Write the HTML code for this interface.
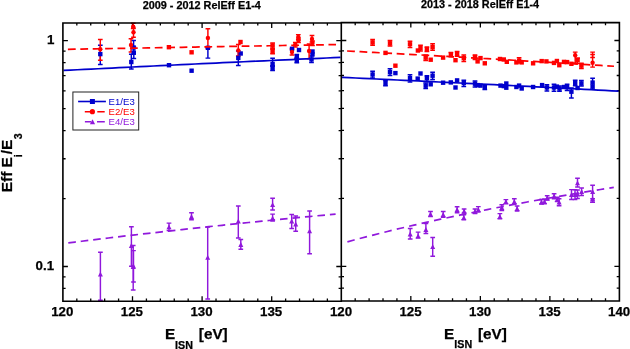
<!DOCTYPE html>
<html lang="en"><head><meta charset="utf-8"><title>RelEff E1-4</title>
<style>html,body{margin:0;padding:0;background:#fff}body{width:630px;height:349px;overflow:hidden}svg{display:block}</style>
</head><body>
<svg width="630" height="349" viewBox="0 0 630 349">
<rect width="630" height="349" fill="#fff"/>
<g id="ticks" stroke="#000" stroke-width="1.3" fill="none">
<path d="M76.82,301.3v-2.7M76.82,22.9v2.7M355.20,301.0v-2.7M355.20,22.599999999999998v2.7M90.74,301.3v-2.7M90.74,22.9v2.7M369.11,301.0v-2.7M369.11,22.599999999999998v2.7M104.66,301.3v-2.7M104.66,22.9v2.7M383.01,301.0v-2.7M383.01,22.599999999999998v2.7M118.58,301.3v-2.7M118.58,22.9v2.7M396.92,301.0v-2.7M396.92,22.599999999999998v2.7M132.50,301.3v-5.0M132.50,22.9v5.0M410.82,301.0v-5.0M410.82,22.599999999999998v5.0M146.42,301.3v-2.7M146.42,22.9v2.7M424.73,301.0v-2.7M424.73,22.599999999999998v2.7M160.34,301.3v-2.7M160.34,22.9v2.7M438.63,301.0v-2.7M438.63,22.599999999999998v2.7M174.26,301.3v-2.7M174.26,22.9v2.7M452.54,301.0v-2.7M452.54,22.599999999999998v2.7M188.18,301.3v-2.7M188.18,22.9v2.7M466.44,301.0v-2.7M466.44,22.599999999999998v2.7M202.10,301.3v-5.0M202.10,22.9v5.0M480.35,301.0v-5.0M480.35,22.599999999999998v5.0M216.02,301.3v-2.7M216.02,22.9v2.7M494.25,301.0v-2.7M494.25,22.599999999999998v2.7M229.94,301.3v-2.7M229.94,22.9v2.7M508.16,301.0v-2.7M508.16,22.599999999999998v2.7M243.86,301.3v-2.7M243.86,22.9v2.7M522.07,301.0v-2.7M522.07,22.599999999999998v2.7M257.78,301.3v-2.7M257.78,22.9v2.7M535.97,301.0v-2.7M535.97,22.599999999999998v2.7M271.70,301.3v-5.0M271.70,22.9v5.0M549.88,301.0v-5.0M549.88,22.599999999999998v5.0M285.62,301.3v-2.7M285.62,22.9v2.7M563.78,301.0v-2.7M563.78,22.599999999999998v2.7M299.54,301.3v-2.7M299.54,22.9v2.7M577.68,301.0v-2.7M577.68,22.599999999999998v2.7M313.46,301.3v-2.7M313.46,22.9v2.7M591.59,301.0v-2.7M591.59,22.599999999999998v2.7M327.38,301.3v-2.7M327.38,22.9v2.7M605.50,301.0v-2.7M605.50,22.599999999999998v2.7M62.9,288.38h2.7M338.6,288.38h2.7M341.3,288.18h2.7M619.4,288.18h-2.7M62.9,276.83h2.7M338.6,276.83h2.7M341.3,276.63h2.7M619.4,276.63h-2.7M62.9,266.50h5.0M336.3,266.50h5.0M341.3,266.30h5.0M619.4,266.30h-5.0M62.9,198.53h2.7M338.6,198.53h2.7M341.3,198.33h2.7M619.4,198.33h-2.7M62.9,158.77h2.7M338.6,158.77h2.7M341.3,158.57h2.7M619.4,158.57h-2.7M62.9,130.55h2.7M338.6,130.55h2.7M341.3,130.35h2.7M619.4,130.35h-2.7M62.9,108.67h2.7M338.6,108.67h2.7M341.3,108.47h2.7M619.4,108.47h-2.7M62.9,90.79h2.7M338.6,90.79h2.7M341.3,90.59h2.7M619.4,90.59h-2.7M62.9,75.68h2.7M338.6,75.68h2.7M341.3,75.48h2.7M619.4,75.48h-2.7M62.9,62.58h2.7M338.6,62.58h2.7M341.3,62.38h2.7M619.4,62.38h-2.7M62.9,51.03h2.7M338.6,51.03h2.7M341.3,50.83h2.7M619.4,50.83h-2.7M62.9,40.70h5.0M336.3,40.70h5.0M341.3,40.50h5.0M619.4,40.50h-5.0"/>
</g>
<g id="left-data">
<path d="M100.40,252.30V300.30M98.05,252.30H102.75M98.05,300.30H102.75" stroke="#9018DC" stroke-width="1.45" fill="none"/>
<path d="M100.40,271.70 L102.90,276.50 L97.90,276.50Z" fill="#9018DC"/>
<path d="M131.40,226.80V266.20M129.05,226.80H133.75M129.05,266.20H133.75" stroke="#9018DC" stroke-width="1.45" fill="none"/>
<path d="M131.40,243.10 L133.90,247.90 L128.90,247.90Z" fill="#9018DC"/>
<path d="M133.50,250.60V282.00M131.15,250.60H135.85M131.15,282.00H135.85" stroke="#9018DC" stroke-width="1.45" fill="none"/>
<path d="M133.50,263.60 L136.00,268.40 L131.00,268.40Z" fill="#9018DC"/>
<path d="M133.20,245.50V290.00M130.85,245.50H135.55M130.85,290.00H135.55" stroke="#9018DC" stroke-width="1.45" fill="none"/>
<path d="M133.20,264.10 L135.70,268.90 L130.70,268.90Z" fill="#9018DC"/>
<path d="M169.00,223.10V230.50M166.65,223.10H171.35M166.65,230.50H171.35" stroke="#9018DC" stroke-width="1.45" fill="none"/>
<path d="M169.00,224.50 L171.50,229.30 L166.50,229.30Z" fill="#9018DC"/>
<path d="M191.50,212.70V219.70M189.15,212.70H193.85M189.15,219.70H193.85" stroke="#9018DC" stroke-width="1.45" fill="none"/>
<path d="M191.50,214.10 L194.00,218.90 L189.00,218.90Z" fill="#9018DC"/>
<path d="M207.70,227.10V299.00M205.35,227.10H210.05M205.35,299.00H210.05" stroke="#9018DC" stroke-width="1.45" fill="none"/>
<path d="M207.70,254.90 L210.20,259.70 L205.20,259.70Z" fill="#9018DC"/>
<path d="M238.30,205.90V237.90M235.95,205.90H240.65M235.95,237.90H240.65" stroke="#9018DC" stroke-width="1.45" fill="none"/>
<path d="M238.30,218.70 L240.80,223.50 L235.80,223.50Z" fill="#9018DC"/>
<path d="M240.80,239.40V249.30M238.45,239.40H243.15M238.45,249.30H243.15" stroke="#9018DC" stroke-width="1.45" fill="none"/>
<path d="M240.80,242.10 L243.30,246.90 L238.30,246.90Z" fill="#9018DC"/>
<path d="M272.60,198.30V210.00M270.25,198.30H274.95M270.25,210.00H274.95" stroke="#9018DC" stroke-width="1.45" fill="none"/>
<path d="M272.60,202.20 L275.10,207.00 L270.10,207.00Z" fill="#9018DC"/>
<path d="M272.60,214.10V221.10M270.25,214.10H274.95M270.25,221.10H274.95" stroke="#9018DC" stroke-width="1.45" fill="none"/>
<path d="M272.60,215.80 L275.10,220.60 L270.10,220.60Z" fill="#9018DC"/>
<path d="M291.70,214.40V228.50M289.35,214.40H294.05M289.35,228.50H294.05" stroke="#9018DC" stroke-width="1.45" fill="none"/>
<path d="M291.70,218.60 L294.20,223.40 L289.20,223.40Z" fill="#9018DC"/>
<path d="M295.70,216.00V231.30M293.35,216.00H298.05M293.35,231.30H298.05" stroke="#9018DC" stroke-width="1.45" fill="none"/>
<path d="M295.70,221.60 L298.20,226.40 L293.20,226.40Z" fill="#9018DC"/>
<path d="M309.60,211.00V253.70M307.25,211.00H311.95M307.25,253.70H311.95" stroke="#9018DC" stroke-width="1.45" fill="none"/>
<path d="M309.60,228.40 L312.10,233.20 L307.10,233.20Z" fill="#9018DC"/>
<path d="M68.30,242.91 L74.98,242.07 L81.66,241.25 L88.35,240.42 L95.03,239.61 L101.71,238.80 L108.40,238.00 L115.08,237.20 L121.76,236.42 L128.44,235.63 L135.12,234.86 L141.81,234.09 L148.49,233.32 L155.17,232.56 L161.86,231.81 L168.54,231.06 L175.22,230.32 L181.90,229.59 L188.59,228.86 L195.27,228.13 L201.95,227.41 L208.63,226.70 L215.31,225.99 L222.00,225.29 L228.68,224.59 L235.36,223.89 L242.05,223.20 L248.73,222.52 L255.41,221.84 L262.09,221.17 L268.77,220.50 L275.46,219.83 L282.14,219.17 L288.82,218.51 L295.50,217.86 L302.19,217.21 L308.87,216.57 L315.55,215.93 L322.24,215.29 L328.92,214.66 L335.60,214.03" stroke="#9018DC" stroke-width="1.7" stroke-dasharray="7.6 4.93" fill="none"/>
<path d="M100.30,45.20V64.50M97.95,45.20H102.65M97.95,64.50H102.65" stroke="#0000CD" stroke-width="1.45" fill="none"/>
<path d="M131.30,54.20V69.00M128.95,54.20H133.65M128.95,69.00H133.65" stroke="#0000CD" stroke-width="1.45" fill="none"/>
<path d="M133.80,47.00V58.50M131.45,47.00H136.15M131.45,58.50H136.15" stroke="#0000CD" stroke-width="1.45" fill="none"/>
<path d="M133.60,40.40V54.00M131.25,40.40H135.95M131.25,54.00H135.95" stroke="#0000CD" stroke-width="1.45" fill="none"/>
<path d="M207.90,47.80V58.10M205.55,47.80H210.25M205.55,58.10H210.25" stroke="#0000CD" stroke-width="1.45" fill="none"/>
<path d="M238.30,51.00V65.50M235.95,51.00H240.65M235.95,65.50H240.65" stroke="#0000CD" stroke-width="1.45" fill="none"/>
<path d="M272.60,58.20V66.00M270.25,58.20H274.95M270.25,66.00H274.95" stroke="#0000CD" stroke-width="1.45" fill="none"/>
<path d="M272.60,66.00V70.60M270.25,66.00H274.95M270.25,70.60H274.95" stroke="#0000CD" stroke-width="1.45" fill="none"/>
<path d="M296.80,54.40V59.00M294.45,54.40H299.15M294.45,59.00H299.15" stroke="#0000CD" stroke-width="1.45" fill="none"/>
<path d="M296.80,58.00V62.80M294.45,58.00H299.15M294.45,62.80H299.15" stroke="#0000CD" stroke-width="1.45" fill="none"/>
<path d="M311.50,56.00V62.50M309.15,56.00H313.85M309.15,62.50H313.85" stroke="#0000CD" stroke-width="1.45" fill="none"/>
<path d="M100.30,39.50V60.20M97.95,39.50H102.65M97.95,60.20H102.65" stroke="#FF0000" stroke-width="1.45" fill="none"/>
<path d="M133.20,23.20V28.60M130.85,23.20H135.55M130.85,28.60H135.55" stroke="#FF0000" stroke-width="1.45" fill="none"/>
<path d="M133.50,28.00V37.30M131.15,28.00H135.85M131.15,37.30H135.85" stroke="#FF0000" stroke-width="1.45" fill="none"/>
<path d="M131.00,38.70V51.90M128.65,38.70H133.35M128.65,51.90H133.35" stroke="#FF0000" stroke-width="1.45" fill="none"/>
<path d="M207.90,28.70V47.70M205.55,28.70H210.25M205.55,47.70H210.25" stroke="#FF0000" stroke-width="1.45" fill="none"/>
<path d="M238.30,44.40V56.00M235.95,44.40H240.65M235.95,56.00H240.65" stroke="#FF0000" stroke-width="1.45" fill="none"/>
<path d="M272.60,42.90V48.30M270.25,42.90H274.95M270.25,48.30H274.95" stroke="#FF0000" stroke-width="1.45" fill="none"/>
<path d="M272.60,49.30V53.80M270.25,49.30H274.95M270.25,53.80H274.95" stroke="#FF0000" stroke-width="1.45" fill="none"/>
<path d="M298.30,34.60V39.50M295.95,34.60H300.65M295.95,39.50H300.65" stroke="#FF0000" stroke-width="1.45" fill="none"/>
<path d="M298.50,38.00V42.50M296.15,38.00H300.85M296.15,42.50H300.85" stroke="#FF0000" stroke-width="1.45" fill="none"/>
<path d="M295.30,42.50V47.00M292.95,42.50H297.65M292.95,47.00H297.65" stroke="#FF0000" stroke-width="1.45" fill="none"/>
<path d="M292.00,49.00V54.90M289.65,49.00H294.35M289.65,54.90H294.35" stroke="#FF0000" stroke-width="1.45" fill="none"/>
<path d="M312.00,35.50V42.00M309.65,35.50H314.35M309.65,42.00H314.35" stroke="#FF0000" stroke-width="1.45" fill="none"/>
<path d="M312.50,41.00V45.50M310.15,41.00H314.85M310.15,45.50H314.85" stroke="#FF0000" stroke-width="1.45" fill="none"/>
<path d="M309.10,44.00V58.70M306.75,44.00H311.45M306.75,58.70H311.45" stroke="#FF0000" stroke-width="1.45" fill="none"/>
<rect x="98.10" y="51.90" width="4.4" height="4.4" fill="#0000CD"/>
<rect x="129.10" y="59.80" width="4.4" height="4.4" fill="#0000CD"/>
<rect x="131.60" y="50.40" width="4.4" height="4.4" fill="#0000CD"/>
<rect x="131.40" y="45.30" width="4.4" height="4.4" fill="#0000CD"/>
<rect x="166.80" y="63.00" width="4.4" height="4.4" fill="#0000CD"/>
<rect x="189.40" y="68.50" width="4.4" height="4.4" fill="#0000CD"/>
<rect x="205.70" y="45.60" width="4.4" height="4.4" fill="#0000CD"/>
<rect x="238.50" y="51.30" width="4.4" height="4.4" fill="#0000CD"/>
<rect x="236.10" y="55.70" width="4.4" height="4.4" fill="#0000CD"/>
<rect x="270.40" y="61.70" width="4.4" height="4.4" fill="#0000CD"/>
<rect x="270.40" y="66.10" width="4.4" height="4.4" fill="#0000CD"/>
<rect x="289.80" y="46.60" width="4.4" height="4.4" fill="#0000CD"/>
<rect x="296.80" y="47.80" width="4.4" height="4.4" fill="#0000CD"/>
<rect x="294.60" y="54.80" width="4.4" height="4.4" fill="#0000CD"/>
<rect x="294.60" y="58.20" width="4.4" height="4.4" fill="#0000CD"/>
<rect x="310.30" y="49.30" width="4.4" height="4.4" fill="#0000CD"/>
<rect x="310.30" y="52.20" width="4.4" height="4.4" fill="#0000CD"/>
<rect x="309.30" y="57.20" width="4.4" height="4.4" fill="#0000CD"/>
<path d="M63.50,70.46 L70.42,70.11 L77.35,69.76 L84.28,69.42 L91.20,69.07 L98.12,68.73 L105.05,68.38 L111.97,68.04 L118.90,67.70 L125.83,67.36 L132.75,67.02 L139.68,66.68 L146.60,66.35 L153.53,66.01 L160.45,65.68 L167.38,65.34 L174.30,65.01 L181.22,64.68 L188.15,64.35 L195.07,64.02 L202.00,63.70 L208.93,63.37 L215.85,63.04 L222.78,62.72 L229.70,62.40 L236.62,62.08 L243.55,61.75 L250.47,61.43 L257.40,61.12 L264.32,60.80 L271.25,60.48 L278.18,60.16 L285.10,59.85 L292.02,59.54 L298.95,59.22 L305.88,58.91 L312.80,58.60 L319.73,58.29 L326.65,57.98 L333.57,57.67 L340.50,57.37" stroke="#0000CD" stroke-width="1.7" fill="none"/>
<circle cx="100.30" cy="49.30" r="2.2" fill="#FF0000"/>
<circle cx="133.20" cy="26.60" r="2.2" fill="#FF0000"/>
<circle cx="133.50" cy="32.30" r="2.2" fill="#FF0000"/>
<circle cx="131.00" cy="45.00" r="2.2" fill="#FF0000"/>
<rect x="166.70" y="45.00" width="4.4" height="4.4" fill="#FF0000"/>
<rect x="189.40" y="50.10" width="4.4" height="4.4" fill="#FF0000"/>
<circle cx="207.90" cy="38.00" r="2.2" fill="#FF0000"/>
<rect x="238.30" y="39.80" width="4.4" height="4.4" fill="#FF0000"/>
<circle cx="238.30" cy="50.40" r="2.2" fill="#FF0000"/>
<rect x="270.40" y="43.30" width="4.4" height="4.4" fill="#FF0000"/>
<rect x="270.40" y="49.30" width="4.4" height="4.4" fill="#FF0000"/>
<circle cx="298.30" cy="37.00" r="2.2" fill="#FF0000"/>
<circle cx="298.50" cy="40.30" r="2.2" fill="#FF0000"/>
<circle cx="295.30" cy="44.60" r="2.2" fill="#FF0000"/>
<circle cx="292.00" cy="52.00" r="2.2" fill="#FF0000"/>
<circle cx="312.00" cy="38.90" r="2.2" fill="#FF0000"/>
<circle cx="312.50" cy="43.10" r="2.2" fill="#FF0000"/>
<circle cx="309.10" cy="51.00" r="2.2" fill="#FF0000"/>
<path d="M67.90,49.31 L74.60,49.19 L81.31,49.07 L88.01,48.95 L94.71,48.83 L101.41,48.71 L108.12,48.59 L114.82,48.47 L121.52,48.35 L128.22,48.23 L134.93,48.11 L141.63,47.99 L148.33,47.87 L155.03,47.75 L161.74,47.63 L168.44,47.51 L175.14,47.39 L181.84,47.28 L188.55,47.16 L195.25,47.04 L201.95,46.92 L208.65,46.80 L215.36,46.69 L222.06,46.57 L228.76,46.45 L235.46,46.33 L242.17,46.22 L248.87,46.10 L255.57,45.98 L262.27,45.87 L268.98,45.75 L275.68,45.63 L282.38,45.52 L289.08,45.40 L295.79,45.28 L302.49,45.17 L309.19,45.05 L315.89,44.94 L322.60,44.82 L329.30,44.71 L336.00,44.59" stroke="#FF0000" stroke-width="1.7" stroke-dasharray="7.8 4.61" fill="none"/>
</g>
<g id="right-data">
<path d="M410.20,228.40V238.90M407.85,228.40H412.55M407.85,238.90H412.55" stroke="#9018DC" stroke-width="1.45" fill="none"/>
<path d="M410.20,231.60 L412.70,236.40 L407.70,236.40Z" fill="#9018DC"/>
<path d="M418.10,232.10V238.10M415.75,232.10H420.45M415.75,238.10H420.45" stroke="#9018DC" stroke-width="1.45" fill="none"/>
<path d="M418.10,233.40 L420.60,238.20 L415.60,238.20Z" fill="#9018DC"/>
<path d="M425.90,223.60V233.50M423.55,223.60H428.25M423.55,233.50H428.25" stroke="#9018DC" stroke-width="1.45" fill="none"/>
<path d="M425.90,227.10 L428.40,231.90 L423.40,231.90Z" fill="#9018DC"/>
<path d="M430.50,211.50V216.60M428.15,211.50H432.85M428.15,216.60H432.85" stroke="#9018DC" stroke-width="1.45" fill="none"/>
<path d="M430.50,211.60 L433.00,216.40 L428.00,216.40Z" fill="#9018DC"/>
<path d="M432.70,237.50V256.30M430.35,237.50H435.05M430.35,256.30H435.05" stroke="#9018DC" stroke-width="1.45" fill="none"/>
<path d="M432.70,244.30 L435.20,249.10 L430.20,249.10Z" fill="#9018DC"/>
<path d="M443.20,211.50V217.20M440.85,211.50H445.55M440.85,217.20H445.55" stroke="#9018DC" stroke-width="1.45" fill="none"/>
<path d="M443.20,212.10 L445.70,216.90 L440.70,216.90Z" fill="#9018DC"/>
<path d="M457.10,206.70V212.80M454.75,206.70H459.45M454.75,212.80H459.45" stroke="#9018DC" stroke-width="1.45" fill="none"/>
<path d="M457.10,207.30 L459.60,212.10 L454.60,212.10Z" fill="#9018DC"/>
<path d="M464.10,209.00V213.00M461.75,209.00H466.45M461.75,213.00H466.45" stroke="#9018DC" stroke-width="1.45" fill="none"/>
<path d="M464.10,208.60 L466.60,213.40 L461.60,213.40Z" fill="#9018DC"/>
<path d="M463.80,214.70V219.80M461.45,214.70H466.15M461.45,219.80H466.15" stroke="#9018DC" stroke-width="1.45" fill="none"/>
<path d="M463.80,215.10 L466.30,219.90 L461.30,219.90Z" fill="#9018DC"/>
<path d="M475.00,209.00V213.60M472.65,209.00H477.35M472.65,213.60H477.35" stroke="#9018DC" stroke-width="1.45" fill="none"/>
<path d="M475.00,209.10 L477.50,213.90 L472.50,213.90Z" fill="#9018DC"/>
<path d="M478.30,206.60V212.00M475.95,206.60H480.65M475.95,212.00H480.65" stroke="#9018DC" stroke-width="1.45" fill="none"/>
<path d="M478.30,207.10 L480.80,211.90 L475.80,211.90Z" fill="#9018DC"/>
<path d="M499.90,213.60V218.70M497.55,213.60H502.25M497.55,218.70H502.25" stroke="#9018DC" stroke-width="1.45" fill="none"/>
<path d="M499.90,214.10 L502.40,218.90 L497.40,218.90Z" fill="#9018DC"/>
<path d="M501.80,204.70V210.40M499.45,204.70H504.15M499.45,210.40H504.15" stroke="#9018DC" stroke-width="1.45" fill="none"/>
<path d="M501.80,205.10 L504.30,209.90 L499.30,209.90Z" fill="#9018DC"/>
<path d="M505.90,199.60V203.80M503.55,199.60H508.25M503.55,203.80H508.25" stroke="#9018DC" stroke-width="1.45" fill="none"/>
<path d="M505.90,199.30 L508.40,204.10 L503.40,204.10Z" fill="#9018DC"/>
<path d="M514.30,198.70V204.00M511.95,198.70H516.65M511.95,204.00H516.65" stroke="#9018DC" stroke-width="1.45" fill="none"/>
<path d="M514.30,199.10 L516.80,203.90 L511.80,203.90Z" fill="#9018DC"/>
<path d="M517.10,206.00V211.00M514.75,206.00H519.45M514.75,211.00H519.45" stroke="#9018DC" stroke-width="1.45" fill="none"/>
<path d="M517.10,206.10 L519.60,210.90 L514.60,210.90Z" fill="#9018DC"/>
<path d="M541.50,199.50V204.00M539.15,199.50H543.85M539.15,204.00H543.85" stroke="#9018DC" stroke-width="1.45" fill="none"/>
<path d="M541.50,199.60 L544.00,204.40 L539.00,204.40Z" fill="#9018DC"/>
<path d="M544.50,199.00V203.70M542.15,199.00H546.85M542.15,203.70H546.85" stroke="#9018DC" stroke-width="1.45" fill="none"/>
<path d="M544.50,199.10 L547.00,203.90 L542.00,203.90Z" fill="#9018DC"/>
<path d="M547.20,195.80V200.00M544.85,195.80H549.55M544.85,200.00H549.55" stroke="#9018DC" stroke-width="1.45" fill="none"/>
<path d="M547.20,195.60 L549.70,200.40 L544.70,200.40Z" fill="#9018DC"/>
<path d="M554.10,193.70V198.70M551.75,193.70H556.45M551.75,198.70H556.45" stroke="#9018DC" stroke-width="1.45" fill="none"/>
<path d="M554.10,193.60 L556.60,198.40 L551.60,198.40Z" fill="#9018DC"/>
<path d="M557.20,197.20V201.50M554.85,197.20H559.55M554.85,201.50H559.55" stroke="#9018DC" stroke-width="1.45" fill="none"/>
<path d="M557.20,197.10 L559.70,201.90 L554.70,201.90Z" fill="#9018DC"/>
<path d="M559.10,198.70V205.80M556.75,198.70H561.45M556.75,205.80H561.45" stroke="#9018DC" stroke-width="1.45" fill="none"/>
<path d="M559.10,199.60 L561.60,204.40 L556.60,204.40Z" fill="#9018DC"/>
<path d="M571.50,189.60V199.40M569.15,189.60H573.85M569.15,199.40H573.85" stroke="#9018DC" stroke-width="1.45" fill="none"/>
<path d="M571.50,192.10 L574.00,196.90 L569.00,196.90Z" fill="#9018DC"/>
<path d="M575.00,189.80V199.40M572.65,189.80H577.35M572.65,199.40H577.35" stroke="#9018DC" stroke-width="1.45" fill="none"/>
<path d="M575.00,192.10 L577.50,196.90 L572.50,196.90Z" fill="#9018DC"/>
<path d="M577.50,190.00V198.50M575.15,190.00H579.85M575.15,198.50H579.85" stroke="#9018DC" stroke-width="1.45" fill="none"/>
<path d="M577.50,191.60 L580.00,196.40 L575.00,196.40Z" fill="#9018DC"/>
<path d="M577.50,178.20V187.00M575.15,178.20H579.85M575.15,187.00H579.85" stroke="#9018DC" stroke-width="1.45" fill="none"/>
<path d="M577.50,180.50 L580.00,185.30 L575.00,185.30Z" fill="#9018DC"/>
<path d="M581.60,187.90V195.40M579.25,187.90H583.95M579.25,195.40H583.95" stroke="#9018DC" stroke-width="1.45" fill="none"/>
<path d="M581.60,189.10 L584.10,193.90 L579.10,193.90Z" fill="#9018DC"/>
<path d="M592.60,185.30V202.20M590.25,185.30H594.95M590.25,202.20H594.95" stroke="#9018DC" stroke-width="1.45" fill="none"/>
<path d="M592.60,189.10 L595.10,193.90 L590.10,193.90Z" fill="#9018DC"/>
<path d="M592.60,198.70V202.20M590.25,198.70H594.95M590.25,202.20H594.95" stroke="#9018DC" stroke-width="1.45" fill="none"/>
<path d="M592.60,196.30 L595.10,201.10 L590.10,201.10Z" fill="#9018DC"/>
<path d="M347.40,241.84 L354.06,240.03 L360.72,238.26 L367.38,236.52 L374.04,234.81 L380.70,233.13 L387.36,231.48 L394.02,229.86 L400.68,228.26 L407.34,226.69 L414.00,225.14 L420.66,223.62 L427.32,222.12 L433.98,220.64 L440.64,219.18 L447.30,217.75 L453.96,216.34 L460.62,214.94 L467.28,213.57 L473.94,212.21 L480.60,210.88 L487.26,209.56 L493.92,208.26 L500.58,206.97 L507.24,205.70 L513.90,204.45 L520.56,203.22 L527.22,202.00 L533.88,200.79 L540.54,199.60 L547.20,198.43 L553.86,197.26 L560.52,196.11 L567.18,194.98 L573.84,193.86 L580.50,192.75 L587.16,191.65 L593.82,190.56 L600.48,189.49 L607.14,188.43 L613.80,187.38" stroke="#9018DC" stroke-width="1.7" stroke-dasharray="7.5 5.24" fill="none"/>
<path d="M372.60,71.20V77.90M370.25,71.20H374.95M370.25,77.90H374.95" stroke="#0000CD" stroke-width="1.45" fill="none"/>
<path d="M385.50,80.50V85.70M383.15,80.50H387.85M383.15,85.70H387.85" stroke="#0000CD" stroke-width="1.45" fill="none"/>
<path d="M390.00,68.80V75.50M387.65,68.80H392.35M387.65,75.50H392.35" stroke="#0000CD" stroke-width="1.45" fill="none"/>
<path d="M410.00,74.80V81.90M407.65,74.80H412.35M407.65,81.90H412.35" stroke="#0000CD" stroke-width="1.45" fill="none"/>
<path d="M426.90,75.70V81.40M424.55,75.70H429.25M424.55,81.40H429.25" stroke="#0000CD" stroke-width="1.45" fill="none"/>
<path d="M425.70,82.90V88.60M423.35,82.90H428.05M423.35,88.60H428.05" stroke="#0000CD" stroke-width="1.45" fill="none"/>
<path d="M432.60,72.20V79.50M430.25,72.20H434.95M430.25,79.50H434.95" stroke="#0000CD" stroke-width="1.45" fill="none"/>
<path d="M463.80,80.20V86.60M461.45,80.20H466.15M461.45,86.60H466.15" stroke="#0000CD" stroke-width="1.45" fill="none"/>
<path d="M475.00,80.90V87.00M472.65,80.90H477.35M472.65,87.00H477.35" stroke="#0000CD" stroke-width="1.45" fill="none"/>
<path d="M484.80,84.70V89.40M482.45,84.70H487.15M482.45,89.40H487.15" stroke="#0000CD" stroke-width="1.45" fill="none"/>
<path d="M546.90,84.70V90.90M544.55,84.70H549.25M544.55,90.90H549.25" stroke="#0000CD" stroke-width="1.45" fill="none"/>
<path d="M554.00,84.20V91.30M551.65,84.20H556.35M551.65,91.30H556.35" stroke="#0000CD" stroke-width="1.45" fill="none"/>
<path d="M559.50,86.00V91.30M557.15,86.00H561.85M557.15,91.30H561.85" stroke="#0000CD" stroke-width="1.45" fill="none"/>
<path d="M567.10,84.30V90.50M564.75,84.30H569.45M564.75,90.50H569.45" stroke="#0000CD" stroke-width="1.45" fill="none"/>
<path d="M571.40,88.00V97.90M569.05,88.00H573.75M569.05,97.90H573.75" stroke="#0000CD" stroke-width="1.45" fill="none"/>
<path d="M575.20,80.30V85.80M572.85,80.30H577.55M572.85,85.80H577.55" stroke="#0000CD" stroke-width="1.45" fill="none"/>
<path d="M581.40,80.50V86.00M579.05,80.50H583.75M579.05,86.00H583.75" stroke="#0000CD" stroke-width="1.45" fill="none"/>
<path d="M592.60,78.20V89.30M590.25,78.20H594.95M590.25,89.30H594.95" stroke="#0000CD" stroke-width="1.45" fill="none"/>
<path d="M372.60,39.50V45.20M370.25,39.50H374.95M370.25,45.20H374.95" stroke="#FF0000" stroke-width="1.45" fill="none"/>
<path d="M390.00,40.50V46.00M387.65,40.50H392.35M387.65,46.00H392.35" stroke="#FF0000" stroke-width="1.45" fill="none"/>
<path d="M410.00,41.20V47.60M407.65,41.20H412.35M407.65,47.60H412.35" stroke="#FF0000" stroke-width="1.45" fill="none"/>
<path d="M420.50,45.20V51.00M418.15,45.20H422.85M418.15,51.00H422.85" stroke="#FF0000" stroke-width="1.45" fill="none"/>
<path d="M426.90,47.00V51.50M424.55,47.00H429.25M424.55,51.50H429.25" stroke="#FF0000" stroke-width="1.45" fill="none"/>
<path d="M432.60,43.80V50.20M430.25,43.80H434.95M430.25,50.20H434.95" stroke="#FF0000" stroke-width="1.45" fill="none"/>
<path d="M425.70,55.00V60.50M423.35,55.00H428.05M423.35,60.50H428.05" stroke="#FF0000" stroke-width="1.45" fill="none"/>
<path d="M450.90,52.40V56.70M448.55,52.40H453.25M448.55,56.70H453.25" stroke="#FF0000" stroke-width="1.45" fill="none"/>
<path d="M457.10,51.40V56.20M454.75,51.40H459.45M454.75,56.20H459.45" stroke="#FF0000" stroke-width="1.45" fill="none"/>
<path d="M463.80,55.00V61.40M461.45,55.00H466.15M461.45,61.40H466.15" stroke="#FF0000" stroke-width="1.45" fill="none"/>
<path d="M475.00,55.00V59.50M472.65,55.00H477.35M472.65,59.50H477.35" stroke="#FF0000" stroke-width="1.45" fill="none"/>
<path d="M519.10,57.60V63.00M516.75,57.60H521.45M516.75,63.00H521.45" stroke="#FF0000" stroke-width="1.45" fill="none"/>
<path d="M575.20,52.10V63.00M572.85,52.10H577.55M572.85,63.00H577.55" stroke="#FF0000" stroke-width="1.45" fill="none"/>
<path d="M577.60,57.90V63.60M575.25,57.90H579.95M575.25,63.60H579.95" stroke="#FF0000" stroke-width="1.45" fill="none"/>
<path d="M581.40,63.20V68.50M579.05,63.20H583.75M579.05,68.50H583.75" stroke="#FF0000" stroke-width="1.45" fill="none"/>
<path d="M592.60,52.10V67.10M590.25,52.10H594.95M590.25,67.10H594.95" stroke="#FF0000" stroke-width="1.45" fill="none"/>
<path d="M592.60,54.50V57.40M590.25,54.50H594.95M590.25,57.40H594.95" stroke="#FF0000" stroke-width="1.45" fill="none"/>
<rect x="370.40" y="72.30" width="4.4" height="4.4" fill="#0000CD"/>
<rect x="383.30" y="80.90" width="4.4" height="4.4" fill="#0000CD"/>
<rect x="387.80" y="69.90" width="4.4" height="4.4" fill="#0000CD"/>
<rect x="393.20" y="70.90" width="4.4" height="4.4" fill="#0000CD"/>
<rect x="407.80" y="75.90" width="4.4" height="4.4" fill="#0000CD"/>
<rect x="415.50" y="76.40" width="4.4" height="4.4" fill="#0000CD"/>
<rect x="418.30" y="71.30" width="4.4" height="4.4" fill="#0000CD"/>
<rect x="424.70" y="75.90" width="4.4" height="4.4" fill="#0000CD"/>
<rect x="423.50" y="83.50" width="4.4" height="4.4" fill="#0000CD"/>
<rect x="428.50" y="82.10" width="4.4" height="4.4" fill="#0000CD"/>
<rect x="430.40" y="73.50" width="4.4" height="4.4" fill="#0000CD"/>
<rect x="440.90" y="80.50" width="4.4" height="4.4" fill="#0000CD"/>
<rect x="448.60" y="80.20" width="4.4" height="4.4" fill="#0000CD"/>
<rect x="454.90" y="78.20" width="4.4" height="4.4" fill="#0000CD"/>
<rect x="453.30" y="85.30" width="4.4" height="4.4" fill="#0000CD"/>
<rect x="461.60" y="81.00" width="4.4" height="4.4" fill="#0000CD"/>
<rect x="472.80" y="81.50" width="4.4" height="4.4" fill="#0000CD"/>
<rect x="475.40" y="82.90" width="4.4" height="4.4" fill="#0000CD"/>
<rect x="478.30" y="83.40" width="4.4" height="4.4" fill="#0000CD"/>
<rect x="482.60" y="84.80" width="4.4" height="4.4" fill="#0000CD"/>
<rect x="498.30" y="83.40" width="4.4" height="4.4" fill="#0000CD"/>
<rect x="501.60" y="83.90" width="4.4" height="4.4" fill="#0000CD"/>
<rect x="504.10" y="81.30" width="4.4" height="4.4" fill="#0000CD"/>
<rect x="504.10" y="85.50" width="4.4" height="4.4" fill="#0000CD"/>
<rect x="514.20" y="84.80" width="4.4" height="4.4" fill="#0000CD"/>
<rect x="516.90" y="83.40" width="4.4" height="4.4" fill="#0000CD"/>
<rect x="519.50" y="86.30" width="4.4" height="4.4" fill="#0000CD"/>
<rect x="530.90" y="84.80" width="4.4" height="4.4" fill="#0000CD"/>
<rect x="539.90" y="82.90" width="4.4" height="4.4" fill="#0000CD"/>
<rect x="544.70" y="85.30" width="4.4" height="4.4" fill="#0000CD"/>
<rect x="551.80" y="85.30" width="4.4" height="4.4" fill="#0000CD"/>
<rect x="554.70" y="84.40" width="4.4" height="4.4" fill="#0000CD"/>
<rect x="557.30" y="86.30" width="4.4" height="4.4" fill="#0000CD"/>
<rect x="561.80" y="84.80" width="4.4" height="4.4" fill="#0000CD"/>
<rect x="564.90" y="84.80" width="4.4" height="4.4" fill="#0000CD"/>
<rect x="569.20" y="89.50" width="4.4" height="4.4" fill="#0000CD"/>
<rect x="573.00" y="80.80" width="4.4" height="4.4" fill="#0000CD"/>
<rect x="575.40" y="85.80" width="4.4" height="4.4" fill="#0000CD"/>
<rect x="579.20" y="81.20" width="4.4" height="4.4" fill="#0000CD"/>
<rect x="590.40" y="80.40" width="4.4" height="4.4" fill="#0000CD"/>
<rect x="590.40" y="84.40" width="4.4" height="4.4" fill="#0000CD"/>
<path d="M342.00,77.37 L348.92,77.69 L355.84,78.02 L362.76,78.34 L369.68,78.67 L376.60,78.99 L383.52,79.32 L390.44,79.65 L397.36,79.98 L404.28,80.31 L411.20,80.64 L418.12,80.97 L425.04,81.31 L431.96,81.64 L438.88,81.98 L445.80,82.32 L452.72,82.66 L459.64,83.00 L466.56,83.34 L473.48,83.68 L480.40,84.02 L487.32,84.37 L494.24,84.71 L501.16,85.06 L508.08,85.41 L515.00,85.76 L521.92,86.11 L528.84,86.46 L535.76,86.81 L542.68,87.17 L549.60,87.52 L556.52,87.88 L563.44,88.24 L570.36,88.60 L577.28,88.96 L584.20,89.32 L591.12,89.69 L598.04,90.05 L604.96,90.42 L611.88,90.79 L618.80,91.15" stroke="#0000CD" stroke-width="1.7" fill="none"/>
<rect x="370.40" y="40.20" width="4.4" height="4.4" fill="#FF0000"/>
<rect x="387.80" y="41.10" width="4.4" height="4.4" fill="#FF0000"/>
<rect x="383.30" y="50.70" width="4.4" height="4.4" fill="#FF0000"/>
<rect x="393.20" y="63.50" width="4.4" height="4.4" fill="#FF0000"/>
<rect x="407.80" y="42.10" width="4.4" height="4.4" fill="#FF0000"/>
<rect x="415.70" y="48.30" width="4.4" height="4.4" fill="#FF0000"/>
<rect x="418.30" y="45.90" width="4.4" height="4.4" fill="#FF0000"/>
<rect x="424.70" y="47.00" width="4.4" height="4.4" fill="#FF0000"/>
<rect x="430.40" y="44.80" width="4.4" height="4.4" fill="#FF0000"/>
<rect x="423.50" y="55.40" width="4.4" height="4.4" fill="#FF0000"/>
<rect x="428.50" y="57.50" width="4.4" height="4.4" fill="#FF0000"/>
<rect x="440.90" y="55.40" width="4.4" height="4.4" fill="#FF0000"/>
<rect x="448.70" y="52.30" width="4.4" height="4.4" fill="#FF0000"/>
<rect x="454.90" y="51.60" width="4.4" height="4.4" fill="#FF0000"/>
<rect x="453.30" y="58.00" width="4.4" height="4.4" fill="#FF0000"/>
<rect x="461.60" y="55.90" width="4.4" height="4.4" fill="#FF0000"/>
<rect x="472.80" y="54.90" width="4.4" height="4.4" fill="#FF0000"/>
<rect x="475.40" y="59.20" width="4.4" height="4.4" fill="#FF0000"/>
<rect x="478.30" y="55.90" width="4.4" height="4.4" fill="#FF0000"/>
<rect x="482.60" y="61.10" width="4.4" height="4.4" fill="#FF0000"/>
<rect x="497.80" y="56.80" width="4.4" height="4.4" fill="#FF0000"/>
<rect x="501.60" y="57.30" width="4.4" height="4.4" fill="#FF0000"/>
<rect x="504.60" y="59.60" width="4.4" height="4.4" fill="#FF0000"/>
<rect x="514.20" y="60.20" width="4.4" height="4.4" fill="#FF0000"/>
<rect x="516.90" y="58.30" width="4.4" height="4.4" fill="#FF0000"/>
<rect x="519.50" y="60.20" width="4.4" height="4.4" fill="#FF0000"/>
<rect x="530.90" y="61.10" width="4.4" height="4.4" fill="#FF0000"/>
<rect x="539.50" y="58.90" width="4.4" height="4.4" fill="#FF0000"/>
<rect x="544.20" y="59.20" width="4.4" height="4.4" fill="#FF0000"/>
<rect x="551.80" y="60.70" width="4.4" height="4.4" fill="#FF0000"/>
<rect x="554.70" y="58.80" width="4.4" height="4.4" fill="#FF0000"/>
<rect x="557.10" y="63.00" width="4.4" height="4.4" fill="#FF0000"/>
<rect x="561.80" y="59.70" width="4.4" height="4.4" fill="#FF0000"/>
<rect x="564.90" y="59.90" width="4.4" height="4.4" fill="#FF0000"/>
<rect x="569.20" y="61.60" width="4.4" height="4.4" fill="#FF0000"/>
<circle cx="575.20" cy="55.20" r="2.2" fill="#FF0000"/>
<rect x="575.40" y="58.00" width="4.4" height="4.4" fill="#FF0000"/>
<rect x="579.20" y="63.40" width="4.4" height="4.4" fill="#FF0000"/>
<circle cx="592.60" cy="62.80" r="2.2" fill="#FF0000"/>
<path d="M347.10,51.00 L353.77,51.36 L360.45,51.71 L367.12,52.07 L373.79,52.43 L380.46,52.78 L387.13,53.14 L393.81,53.51 L400.48,53.87 L407.15,54.23 L413.83,54.60 L420.50,54.96 L427.17,55.33 L433.84,55.70 L440.51,56.07 L447.19,56.45 L453.86,56.82 L460.53,57.19 L467.21,57.57 L473.88,57.95 L480.55,58.33 L487.22,58.71 L493.89,59.09 L500.57,59.48 L507.24,59.86 L513.91,60.25 L520.59,60.64 L527.26,61.03 L533.93,61.42 L540.60,61.81 L547.27,62.21 L553.95,62.60 L560.62,63.00 L567.29,63.40 L573.96,63.80 L580.64,64.20 L587.31,64.61 L593.98,65.01 L600.65,65.42 L607.33,65.83 L614.00,66.24" stroke="#FF0000" stroke-width="1.7" stroke-dasharray="7.8 4.61" fill="none"/>
</g>
<g id="axes" stroke="#000" stroke-width="1.6" fill="none">
<path d="M62.9,23.0H341.3M341.3,22.599999999999998H619.4M62.9,301.3H341.3M341.3,301.0H619.4M62.9,22.2V302.1M341.3,21.799999999999997V302.1M619.4,21.799999999999997V301.8"/>
</g>
<g font-family="Liberation Sans, Arial, sans-serif" font-weight="bold" fill="#000" stroke="#000" stroke-width="0.25">
<text x="201.8" y="9.0" font-size="10.85" text-anchor="middle">2009 - 2012 RelEff E1-4</text>
<text x="480" y="8.0" font-size="10.85" text-anchor="middle">2013 - 2018 RelEff E1-4</text>
<text x="62.3" y="316.2" font-size="13.3" text-anchor="middle">120</text>
<text x="131.9" y="316.2" font-size="13.3" text-anchor="middle">125</text>
<text x="201.5" y="316.2" font-size="13.3" text-anchor="middle">130</text>
<text x="271.1" y="316.2" font-size="13.3" text-anchor="middle">135</text>
<text x="341.0" y="316.2" font-size="13.3" text-anchor="middle">120</text>
<text x="410.5" y="316.2" font-size="13.3" text-anchor="middle">125</text>
<text x="480.1" y="316.2" font-size="13.3" text-anchor="middle">130</text>
<text x="549.6" y="316.2" font-size="13.3" text-anchor="middle">135</text>
<text x="619.1" y="316.2" font-size="13.3" text-anchor="middle">140</text>
<text x="54.3" y="43.6" font-size="13.3" text-anchor="end">1</text>
<text x="54.1" y="269.5" font-size="13.3" text-anchor="end">0.1</text>
<text x="164.9" y="339.4" font-size="15.3">E<tspan font-size="10.7" dy="9.2">ISN</tspan><tspan dy="-9.2" dx="1.6"> [eV]</tspan></text>
<text x="444.1" y="338.6" font-size="15.3">E<tspan font-size="10.7" dy="9.2">ISN</tspan><tspan dy="-9.2" dx="1.6"> [eV]</tspan></text>
<text transform="translate(12.2,192.2) rotate(-90)" font-size="15.4">Eff E<tspan font-size="10.7" dy="9.3">i</tspan><tspan dy="-9.3">/E</tspan><tspan font-size="10.7" dy="9.3" dx="0.4">3</tspan></text>
</g>
<g id="legend">
<rect x="72.9" y="92" width="65.8" height="38" fill="#fff" stroke="#222" stroke-width="1"/>
<path d="M78.1,101.5H105.9" stroke="#0000CD" stroke-width="1.6"/><rect x="89.90" y="99.00" width="5" height="5" fill="#0000CD"/>
<path d="M84.8,111.7H90M97.3,111.7H104.7" stroke="#FF0000" stroke-width="1.6"/><circle cx="92.40" cy="111.70" r="2.6" fill="#FF0000"/>
<path d="M84.9,121.7H91M97,121.7H104.8" stroke="#9018DC" stroke-width="1.6"/><path d="M92.50,119.20 L95.10,124.20 L89.90,124.20Z" fill="#9018DC"/>
<g font-family="Liberation Sans, Arial, sans-serif" font-size="9.6">
<text x="108.6" y="105" fill="#0000CD">E1/E3</text>
<text x="108.6" y="115.1" fill="#FF0000">E2/E3</text>
<text x="108.6" y="125.2" fill="#9018DC">E4/E3</text>
</g></g>
</svg>
</body></html>
